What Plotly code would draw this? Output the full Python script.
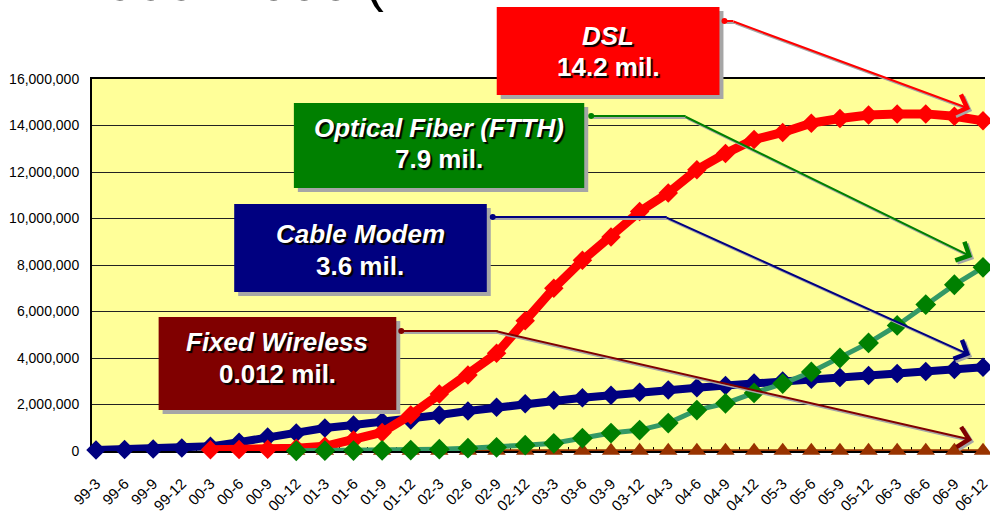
import plotly.graph_objects as go

# ---------------- data ----------------
categories = ["99-3", "99-6", "99-9", "99-12",
              "00-3", "00-6", "00-9", "00-12",
              "01-3", "01-6", "01-9", "01-12",
              "02-3", "02-6", "02-9", "02-12",
              "03-3", "03-6", "03-9", "03-12",
              "04-3", "04-6", "04-9", "04-12",
              "05-3", "05-6", "05-9", "05-12",
              "06-3", "06-6", "06-9", "06-12"]

cable_modem = [40000, 60000, 90000, 130000,
               200000, 380000, 600000, 770000,
               990000, 1120000, 1260000, 1330000,
               1550000, 1720000, 1880000, 2030000,
               2180000, 2290000, 2400000, 2530000,
               2620000, 2720000, 2820000, 2920000,
               3010000, 3090000, 3160000, 3250000,
               3330000, 3420000, 3510000, 3600000]

dsl = [None, None, None, None,
       50000, 60000, 80000, 120000,
       200000, 470000, 800000, 1550000,
       2450000, 3270000, 4200000, 5600000,
       7000000, 8200000, 9200000, 10300000,
       11100000, 12100000, 12800000, 13400000,
       13700000, 14100000, 14300000, 14450000,
       14500000, 14500000, 14400000, 14200000]

ftth = [None, None, None, None,
        None, None, None, 10000,
        15000, 20000, 30000, 40000,
        80000, 120000, 160000, 250000,
        330000, 550000, 770000, 900000,
        1200000, 1760000, 2050000, 2500000,
        2900000, 3400000, 4000000, 4650000,
        5400000, 6300000, 7150000, 7900000]

fixed_wireless = [None, None, None, None,
                  None, None, None, 15000,
                  16000, 16000, 15000, 15000,
                  14000, 14000, 14000, 13000,
                  13000, 13000, 13000, 13000,
                  12000, 12000, 12000, 12000,
                  12000, 12000, 12000, 12000,
                  12000, 12000, 12000, 12000]

y_ticks = [0, 2000000, 4000000, 6000000, 8000000,
           10000000, 12000000, 14000000, 16000000]

callouts = [
    # name, value text, box colour
    ("DSL", "14.2 mil.", "#FF0000"),
    ("Optical Fiber (FTTH)", "7.9 mil.", "#008000"),
    ("Cable Modem", "3.6 mil.", "#000080"),
    ("Fixed Wireless", "0.012 mil.", "#800000"),
]

title_text = "1999\u20132006 ("

# ---------------- layout helpers ----------------
W, H = 990, 518
L, R, T, B = 92, 0, 79, 67
PW = W - L - R
PH = H - T - B


def px(x):
    return (x - L) / PW


def py(y):
    return (H - B - y) / PH


fig = go.Figure()

fig.add_trace(go.Scatter(
    x=categories, y=fixed_wireless, name="Fixed Wireless",
    mode="lines+markers",
    line=dict(color="#993300", width=3),
    marker=dict(symbol="triangle-up", size=16, color="#993300"),
    cliponaxis=False))

fig.add_trace(go.Scatter(
    x=categories, y=cable_modem, name="Cable Modem",
    mode="lines+markers",
    line=dict(color="#000080", width=8),
    marker=dict(symbol="diamond", size=15, color="#000080"),
    cliponaxis=False))

fig.add_trace(go.Scatter(
    x=categories, y=dsl, name="DSL",
    mode="lines+markers",
    line=dict(color="#FF0000", width=9),
    marker=dict(symbol="diamond", size=15, color="#FF0000"),
    cliponaxis=False))

fig.add_trace(go.Scatter(
    x=categories, y=ftth, name="Optical Fiber (FTTH)",
    mode="lines+markers",
    line=dict(color="#339966", width=5),
    marker=dict(symbol="diamond", size=16, color="#008000"),
    cliponaxis=False))

# ---------------- callouts ----------------
# (box x0, y0, x1, y1), text line centres y, dot (x,y), elbow x, arrow tip (x,y)
geom = [
    ((499, 7, 723, 95), (36, 67), (728, 21), 737, (975, 109)),
    ((295, 103, 587, 188), (128, 159), (594, 116), 689, (977, 257)),
    ((235, 204, 489, 292), (234, 266), (495, 217), 670, (975, 355)),
    ((159, 317, 398, 410), (342, 374), (403, 331), 500, (977, 440)),
]

shapes = []
annotations = []
shadow = "#A6A6A6"

annotations.append(dict(
    xref="paper", yref="paper", x=px(73), y=py(14),
    xanchor="left", yanchor="bottom", showarrow=False,
    text=title_text, font=dict(family="Arial", size=55, color="black")))

for (name, val, col), (box, tys, dot, ex, tip) in zip(callouts, geom):
    x0, y0, x1, y1 = box
    # box shadow
    shapes.append(dict(type="rect", xref="paper", yref="paper",
                       x0=px(x0 + 4), x1=px(x1 + 4), y0=py(y0 + 4), y1=py(y1 + 4),
                       fillcolor=shadow, line=dict(width=0), layer="above"))
    shapes.append(dict(type="rect", xref="paper", yref="paper",
                       x0=px(x0), x1=px(x1), y0=py(y0), y1=py(y1),
                       fillcolor=col, line=dict(width=0), layer="above"))
    # connector shadow + line (horizontal part)
    for off, c in ((2, shadow), (0, col)):
        shapes.append(dict(type="line", xref="paper", yref="paper",
                           x0=px(dot[0] + off), x1=px(ex + off),
                           y0=py(dot[1] + off), y1=py(dot[1] + off),
                           line=dict(color=c, width=2), layer="above"))
    shapes.append(dict(type="circle", xref="paper", yref="paper",
                       x0=px(dot[0] - 3), x1=px(dot[0] + 3),
                       y0=py(dot[1] - 3), y1=py(dot[1] + 3),
                       fillcolor=col, line=dict(width=0), layer="above"))
    # diagonal arrow: shadow then line
    for off, c in ((2, shadow), (0, col)):
        annotations.append(dict(
            xref="paper", yref="paper",
            x=px(tip[0] + off), y=py(tip[1] + off),
            ax=ex - tip[0], ay=dot[1] - tip[1],
            axref="pixel", ayref="pixel",
            text="", showarrow=True, arrowhead=4, arrowsize=2.0,
            arrowwidth=2, arrowcolor=c))
    # box text, two lines
    cx = px((x0 + x1) / 2)
    for t, yy in ((f"<b><i>{name}</i></b>", tys[0]), (f"<b>{val}</b>", tys[1])):
        annotations.append(dict(
            xref="paper", yref="paper", x=cx, y=py(yy),
            xanchor="center", yanchor="middle", showarrow=False, align="center",
            text=t,
            font=dict(family="Arial", size=26, color="white",
                      shadow="2px 2px 1px #000000")))

fig.update_layout(
    width=W, height=H,
    margin=dict(l=L, r=R, t=T, b=B, pad=0),
    plot_bgcolor="#FFFF99", paper_bgcolor="white",
    showlegend=False,
    shapes=shapes, annotations=annotations,
    xaxis=dict(type="category", categoryorder="array", categoryarray=categories,
               range=[-0.139, 31.07], showgrid=False,
               showline=True, linecolor="black", linewidth=2, mirror=True,
               layer="below traces",
               ticks="inside", ticklen=4, tickcolor="black", tickson="boundaries",
               tickangle=-45, ticklabelstandoff=16,
               tickfont=dict(family="Arial", size=15, color="black")),
    yaxis=dict(range=[0, 16000000], tickvals=y_ticks, tickformat=",d",
               showgrid=True, gridcolor="#222222", gridwidth=1, zeroline=False,
               showline=True, linecolor="black", linewidth=2,
               layer="below traces",
               ticks="", ticklabelstandoff=8,
               tickfont=dict(family="Arial", size=14, color="black")),
)

fig.write_html("out.html")
